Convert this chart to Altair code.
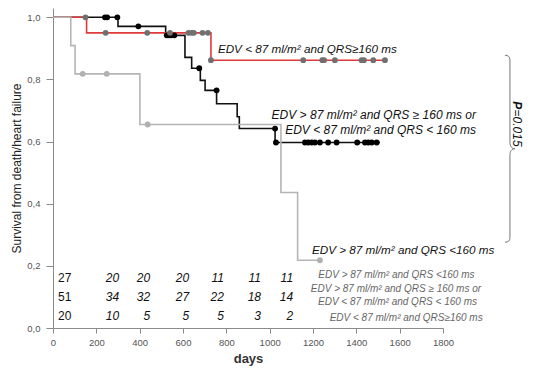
import altair as alt
import pandas as pd

# ---- Kaplan-Meier curves (step change points: day, survival) ----
gray_t = [0, 82, 102, 401, 1052, 1129, 1232]
gray_s = [1.0, 0.909, 0.818, 0.655, 0.436, 0.218, 0.218]
gray_cens_t = [137, 248, 437, 1232]
gray_cens_s = [0.818, 0.818, 0.655, 0.218]

red_t = [0, 155, 729, 1532]
red_s = [1.0, 0.95, 0.862, 0.862]
red_cens_t = [150, 243, 435, 540, 625, 640, 650, 690, 715,
              729, 1155, 1243, 1251, 1301, 1424, 1435, 1478, 1532]
red_cens_s = [1.0, 0.95, 0.95, 0.95, 0.95, 0.95, 0.95, 0.95, 0.95,
              0.862, 0.862, 0.862, 0.862, 0.862, 0.862, 0.862, 0.862, 0.862]

black_t = [0, 300, 520, 609, 640, 680, 702, 755, 850, 860, 1025, 1509]
black_s = [1.0, 0.971, 0.942, 0.871, 0.836, 0.797, 0.765, 0.722, 0.68, 0.642, 0.597, 0.597]
black_cens_t = [240, 250, 297, 394, 525, 535, 545, 560, 675, 755, 1025,
                1029, 1163, 1178, 1194, 1209, 1232, 1270, 1309, 1404, 1440, 1455, 1471, 1494]
black_cens_s = [1.0, 1.0, 1.0, 0.971, 0.942, 0.942, 0.942, 0.942, 0.836, 0.765, 0.642,
                0.597, 0.597, 0.597, 0.597, 0.597, 0.597, 0.597, 0.597, 0.597, 0.597, 0.597, 0.597, 0.597]

# ---- numbers at risk ----
risk_row1 = ["27", "20", "20", "20", "11", "11", "11"]
risk_row2 = ["51", "34", "32", "27", "22", "18", "14"]
risk_row3 = ["20", "10", "5", "5", "5", "3", "2"]
risk_cols = [23, 305, 448, 628, 789, 960, 1108]   # day position of each column
risk_rows_y = [0.160, 0.099, 0.040]

# ---- labels ----
lab_red = "EDV < 87 ml/m\u00b2 and QRS\u2265160 ms"
lab_black1 = "EDV > 87 ml/m\u00b2 and QRS \u2265 160  ms or"
lab_black2 = "EDV < 87 ml/m\u00b2 and QRS < 160 ms"
lab_gray = "EDV > 87 ml/m\u00b2 and QRS <160 ms"

X_DOM = [0, 1800]
Y_DOM = [0, 1.03]

xs = alt.Scale(domain=X_DOM, nice=False)
ys = alt.Scale(domain=Y_DOM, nice=False)

x_axis = alt.Axis(values=list(range(0, 1801, 200)), format="d", labelFontSize=9.5,
                  labelColor="#555", tickColor="#8a8a8a", domainColor="#8a8a8a", tickSize=5,
                  labelPadding=4, grid=False, title="days", titleFontSize=13,
                  titleFontWeight="bold", titleColor="#333", titlePadding=6, labelFlush=False)
y_axis = alt.Axis(values=[0, 0.2, 0.4, 0.6, 0.8, 1.0], labelFontSize=9.5, labelColor="#555",
                  labelExpr="replace(format(datum.value, '.1f'), '.', ',')",
                  tickColor="#8a8a8a", domainColor="#8a8a8a", tickSize=7, labelPadding=6,
                  grid=False, title="Survival from death/heart failure", titleFontSize=12,
                  titleFontWeight="normal", titleColor="#222", titlePadding=3, labelFlush=False)

X = alt.X("day:Q", scale=xs, axis=x_axis)
Y = alt.Y("surv:Q", scale=ys, axis=y_axis)


def curve_df(t, s):
    return pd.DataFrame({"day": t, "surv": s})


def step_line(t, s, color):
    return alt.Chart(curve_df(t, s)).mark_line(
        interpolate="step-after", color=color, strokeWidth=1.6
    ).encode(x=X, y=Y)


def dots(t, s, color):
    return alt.Chart(curve_df(t, s)).mark_circle(size=34, color=color, opacity=1).encode(x=X, y=Y)


black_line = step_line(black_t, black_s, "#111111")
red_line = step_line(red_t, red_s, "#e0393b")
gray_line = step_line(gray_t, gray_s, "#b5b5b5")

black_dots = dots(black_cens_t, black_cens_s, "#000000")
red_dots = dots(red_cens_t, red_cens_s, "#707070")
gray_dots = dots(gray_cens_t, gray_cens_s, "#b0b0b0")

# curve labels (big italic)
curve_labels = pd.DataFrame({
    "text": [lab_red, lab_gray],
    "day": [761, 1195],
    "surv": [0.897, 0.251],
})
curve_text = alt.Chart(curve_labels).mark_text(
    align="left", baseline="middle", fontStyle="italic", fontSize=11.7, color="#111"
).encode(x=X, y=Y, text="text:N")

black_labels = pd.DataFrame({
    "text": [lab_black1, lab_black2],
    "day": [1952, 1952],
    "surv": [0.685, 0.637],
})
black_text = alt.Chart(black_labels).mark_text(
    align="right", baseline="middle", fontStyle="italic", fontSize=12, color="#111"
).encode(x=X, y=Y, text="text:N")

# legend of numbers-at-risk rows (small grey italic)
legend_rows = pd.DataFrame({
    "text": [lab_gray, lab_black1, lab_black2, lab_red],
    "day": [1585, 1583, 1590, 1630],
    "surv": [0.171, 0.126, 0.083, 0.032],
})
legend_text = alt.Chart(legend_rows).mark_text(
    align="center", baseline="middle", fontStyle="italic", fontSize=10, color="#666"
).encode(x=X, y=Y, text="text:N")

# numbers at risk
rows = []
for row_vals, yv in zip([risk_row1, risk_row2, risk_row3], risk_rows_y):
    for i, (v, d) in enumerate(zip(row_vals, risk_cols)):
        rows.append({"text": v, "day": d, "surv": yv, "first": i == 0})
risk_df = pd.DataFrame(rows)
risk_first = alt.Chart(risk_df[risk_df["first"]]).mark_text(
    align="left", baseline="middle", fontSize=12, color="#111"
).encode(x=X, y=Y, text="text:N")
risk_rest = alt.Chart(risk_df[~risk_df["first"]]).mark_text(
    align="right", baseline="middle", fontSize=12, fontStyle="italic", color="#111"
).encode(x=X, y=Y, text="text:N")

# brace and p-value
brace_path = ("M -0.053 -1 C -0.02 -1 0 -0.985 0 -0.95 L 0 -0.07 "
              "C 0 -0.025 0.02 0 0.053 0 C 0.02 0 0 0.025 0 0.07 L 0 0.95 "
              "C 0 0.985 -0.02 1 -0.053 1")
brace = alt.Chart(pd.DataFrame({"day": [2109], "surv": [0.577]})).mark_point(
    shape=brace_path, size=34969, filled=False, color="#777", strokeWidth=1, opacity=1
).encode(x=X, y=Y)

p_letter = alt.Chart(pd.DataFrame({"text": ["P"], "day": [2142], "surv": [0.73]})).mark_text(
    align="left", baseline="middle", angle=90, fontSize=12, fontWeight="bold",
    fontStyle="italic", color="#111"
).encode(x=X, y=Y, text="text:N")
p_value = alt.Chart(pd.DataFrame({"text": ["=0.015"], "day": [2142], "surv": [0.703]})).mark_text(
    align="left", baseline="middle", angle=90, fontSize=12, fontStyle="italic", color="#111"
).encode(x=X, y=Y, text="text:N")

chart = alt.layer(
    black_line, red_line, gray_line, black_dots, red_dots, gray_dots,
    curve_text, black_text, legend_text, risk_first, risk_rest, brace, p_letter, p_value
).properties(
    width=390, height=320, autosize="none",
    padding={"left": 45, "top": 0, "right": 80, "bottom": 40}
).configure(font="Liberation Sans").configure_view(stroke=None)

chart.save("out.html", embed_options={"renderer": "svg", "actions": False})
